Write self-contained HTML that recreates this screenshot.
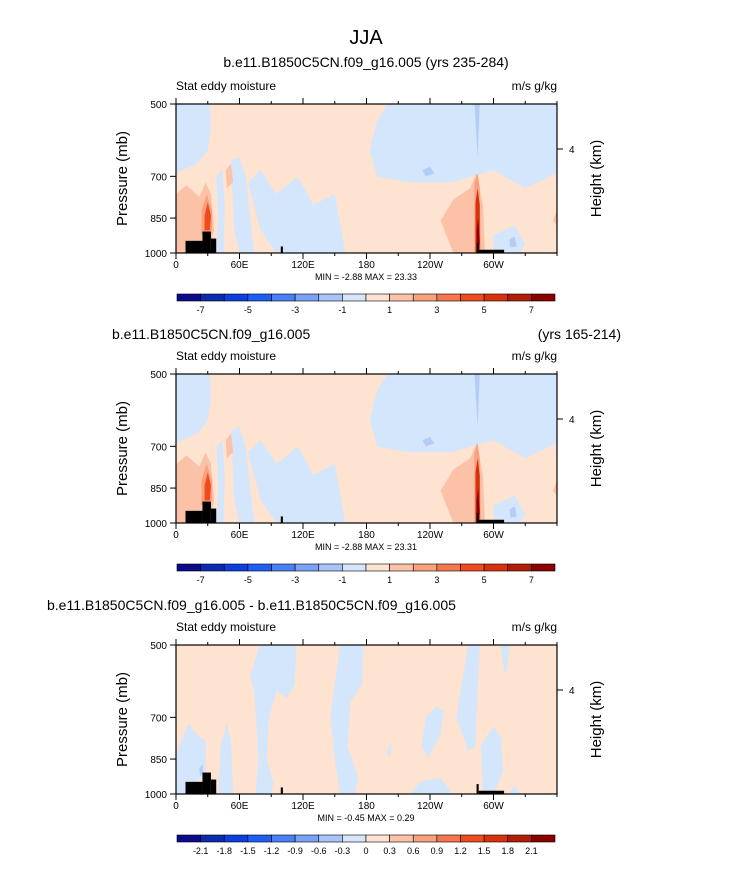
<!DOCTYPE html>
<html><head><meta charset="utf-8">
<style>
body{margin:0;background:#fff;}
svg{display:block;font-family:"Liberation Sans",Arial,sans-serif;}
</style></head>
<body>
<svg id="chart" width="733" height="874" viewBox="0 0 733 874">
<text x="366" y="44" font-size="20" text-anchor="middle">JJA</text>
</svg>
<script>
const lonTicks=[0,60,120,180,240,300];
const lonLabels=["0","60E","120E","180","120W","60W"];
const presTicks=[500,700,850,1000];
const levels1=["-7","-5","-3","-1","1","3","5","7"];
const levels3=["-2.1","-1.8","-1.5","-1.2","-0.9","-0.6","-0.3","0","0.3","0.6","0.9","1.2","1.5","1.8","2.1"];
const cbColors=["#0a0a8c","#0c2bb0","#0c3ee0","#1e5ef5","#4a80f5","#7aa2f5","#a8c4f8","#d4e6fb","#fde3d0","#fbc2a8","#f9a07c","#f5774e","#f04a1e","#d8320c","#b01e08","#8a0000"];
const panelTitles=[["b.e11.B1850C5CN.f09_g16.005 (yrs 235-284)","",""],["","b.e11.B1850C5CN.f09_g16.005","(yrs 165-214)"],["","b.e11.B1850C5CN.f09_g16.005 - b.e11.B1850C5CN.f09_g16.005",""]];
const minMax=["MIN =  -2.88  MAX =  23.33","MIN =  -2.88  MAX =  23.31","MIN =  -0.45  MAX =  0.29"];
const terrain=[[9,25,945],[25,33,905],[33,38,935],[99,101,970],[284,286,955],[286,310,985]];
const blobsFull=[
 ["#d4e6fb",[[0,500],[32,500],[33,560],[30,620],[20,660],[0,690]]],
 ["#d4e6fb",[[38,700],[44,680],[46,800],[45,1000],[38,1000],[40,850]]],
 ["#d4e6fb",[[52,650],[60,640],[66,700],[70,850],[74,1000],[60,1000],[55,900]]],
 ["#d4e6fb",[[68,720],[80,680],[95,760],[115,700],[130,800],[150,760],[160,1000],[95,1000],[80,900]]],
 ["#d4e6fb",[[200,500],[360,500],[360,690],[330,740],[300,680],[260,720],[220,720],[190,700],[183,620],[190,540]]],
 ["#d4e6fb",[[300,920],[320,880],[330,960],[325,1000],[300,1000]]],
 ["#b4cdf6",[[282,500],[287,500],[285,640]]],
 ["#b4cdf6",[[233,680],[240,670],[244,690],[236,700]]],
 ["#b4cdf6",[[315,940],[320,925],[322,970],[316,975]]],
 ["#fbc2a8",[[0,760],[10,730],[22,770],[28,720],[33,760],[36,900],[30,1000],[0,1000]]],
 ["#fbc2a8",[[47,680],[52,660],[54,720],[48,740]]],
 ["#fbc2a8",[[250,860],[262,780],[278,740],[284,690],[290,800],[292,1000],[262,1000]]],
 ["#fbc2a8",[[356,860],[360,820],[360,880]]],
 ["#f9a07c",[[24,820],[29,760],[34,820],[34,900],[24,920]]],
 ["#f04a1e",[[27,840],[30,790],[33,840],[32,900],[27,900]]],
 ["#f9a07c",[[282,720],[285,690],[287,740],[288,1000],[282,1000]]],
 ["#d8320c",[[283,790],[285,740],[287,800],[287,1000],[283,1000]]],
 ["#8a0000",[[284,900],[285.5,850],[287,950],[286,1000],[284,1000]]]
];
const blobsDiff=[
 ["#d4e6fb",[[0,840],[5,780],[12,720],[20,760],[28,780],[28,920],[20,940],[10,1000],[0,1000]]],
 ["#b4cdf6",[[22,890],[25,870],[26,910],[23,920]]],
 ["#d4e6fb",[[40,1000],[42,800],[48,720],[52,780],[54,1000]]],
 ["#d4e6fb",[[79,500],[114,500],[112,600],[105,640],[95,620],[88,700],[86,850],[92,950],[90,1000],[75,1000],[78,850],[74,620],[70,580]]],
 ["#d4e6fb",[[155,500],[177,500],[176,600],[165,650],[162,800],[172,920],[170,1000],[155,1000],[150,850],[146,700],[150,600]]],
 ["#d4e6fb",[[232,800],[236,700],[246,665],[253,680],[250,760],[238,845]]],
 ["#d4e6fb",[[221,1000],[232,940],[250,930],[259,980],[259,1000]]],
 ["#d4e6fb",[[276,500],[287,500],[285,620],[283,800],[276,820],[270,750],[265,700],[270,600]]],
 ["#d4e6fb",[[290,1000],[288,800],[300,730],[307,770],[309,900],[300,1000]]],
 ["#d4e6fb",[[307,500],[315,500],[313,560],[310,570]]],
 ["#d4e6fb",[[199,830],[202,790],[204,800],[202,840]]],
 ["#d4e6fb",[[315,1000],[320,960],[325,1000]]]
];
const svg=document.getElementById('chart');
const NS='http://www.w3.org/2000/svg';
function el(tag,attrs,parent){const e=document.createElementNS(NS,tag);for(const k in attrs)e.setAttribute(k,attrs[k]);(parent||svg).appendChild(e);return e;}
const X0=176,X1=557,PH=149;
const xs=l=>X0+l/360*(X1-X0);
function ys(p,top){return top+(Math.log(p)-Math.log(500))/(Math.log(1000)-Math.log(500))*PH;}
function txt(x,y,s,size,anchor,parent){const t=el('text',{x:x,y:y,'font-size':size,'text-anchor':anchor||'start'},parent);t.textContent=s;return t;}
function panel(i,top,blobs,levels){
 const g=el('g',{});
 
 
 const bg=el('rect',{x:X0,y:top,width:X1-X0,height:PH,fill:'#fde3d0'},g);
 
 
 blobs.forEach(b=>{
  const p=el('polygon',{points:b[1].map(q=>xs(q[0])+','+ys(q[1],top)).join(' '),fill:b[0]},g);
  
  
 });
 terrain.forEach(t=>{
  const r=el('rect',{x:xs(t[0]),y:ys(t[2],top),width:xs(t[1])-xs(t[0]),height:top+PH-ys(t[2],top),fill:'#000'},g);
  
  
 });
 el('rect',{x:X0,y:top,width:X1-X0,height:PH,fill:'none',stroke:'#000','stroke-width':1.2},g);
 for(let l=0;l<=360;l+=30){
  const major=lonTicks.includes(l);
  el('line',{x1:xs(l),x2:xs(l),y1:top+PH,y2:top+PH+(major?6:3),stroke:'#000'},g);
  el('line',{x1:xs(l),x2:xs(l),y1:top,y2:top-(major?6:3),stroke:'#000'},g);
 }
 lonTicks.forEach((l,k)=>{const t=txt(xs(l),top+PH+15,lonLabels[k],10,'middle',g);});
 presTicks.forEach(p=>{
  el('line',{x1:X0,x2:X0-6,y1:ys(p,top),y2:ys(p,top),stroke:'#000'},g);
  const t=txt(X0-9,ys(p,top)+4,String(p),10,'end',g);
  
  
 });
 el('line',{x1:X1,x2:X1+6,y1:top+45,y2:top+45,stroke:'#000'},g);
 txt(X1+12,top+49,'4',10,'start',g);
 const yt=txt(0,0,'Pressure (mb)',15,'middle',g);
 yt.setAttribute('transform','translate(127,'+(top+PH/2)+') rotate(-90)');
 
 
 const yr=txt(0,0,'Height (km)',15,'middle',g);
 yr.setAttribute('transform','translate(601,'+(top+PH/2)+') rotate(-90)');
 
 
 txt(X0,top-14,'Stat eddy moisture',12,'start',g);
 txt(X1,top-14,'m/s g/kg',12,'end',g);
 const tt=panelTitles[i];
 if(tt[0]) txt(366,top-37,tt[0],14,'middle',g);
 if(tt[1]) txt(i==1?112:47,top-35,tt[1],14,'start',g);
 if(tt[2]) txt(621,top-35,tt[2],14,'end',g);
 txt(366,top+PH+27,minMax[i],9,'middle',g);
 const cy=top+PH+41,cw=(555-177)/16;
 cbColors.forEach((c,k)=>{
  const r=el('rect',{x:177+k*cw,y:cy,width:cw,height:7,fill:c,stroke:'#000','stroke-width':0.6},g);
  
  
 });
 const step=levels.length==8?2:1,start=1;
 levels.forEach((s,k)=>{txt(177+(start+k*step)*cw,cy+19,s,9,'middle',g);});
}
panel(0,104,blobsFull,levels1);
panel(1,374,blobsFull,levels1);
panel(2,645,blobsDiff,levels3);
</script>
</body></html>
